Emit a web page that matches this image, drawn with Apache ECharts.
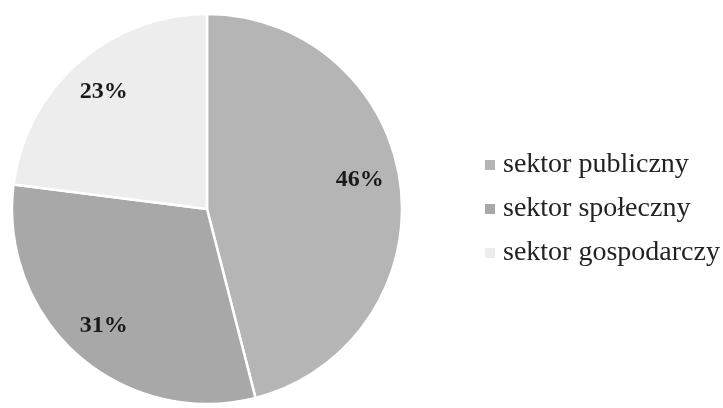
<!DOCTYPE html>
<html>
<head>
<meta charset="utf-8">
<script src="https://cdn.jsdelivr.net/npm/echarts@6/dist/echarts.min.js"></script>
<style>
html,body{margin:0;padding:0;background:#fff;}
#chart{width:723px;height:408px;}
</style>
</head>
<body>
<div id="chart"></div>
<script>
const categories = ['sektor publiczny', 'sektor społeczny', 'sektor gospodarczy'];
const values = [46, 31, 23];
const sliceColors = ['#b5b5b5', '#a8a8a8', '#ededed'];

const chart = echarts.init(document.getElementById('chart'), null, {renderer: 'canvas'});
const pieData = categories.map((c, i) => ({name: c, value: values[i], itemStyle: {color: sliceColors[i]}}));
const labelData = categories.map((c, i) => ({
  name: c,
  value: values[i],
  label: i === 0 ? {offset: [-2, -10]} : {}
}));

chart.setOption({
  backgroundColor: '#ffffff',
  animation: false,
  legend: {
    orient: 'vertical',
    left: 478,
    top: 145,
    itemWidth: 12,
    itemHeight: 12,
    itemGap: 14,
    icon: 'rect',
    data: categories,
    textStyle: {
      fontFamily: 'Liberation Serif',
      fontSize: 28,
      color: '#222',
      lineHeight: 30,
      padding: [0, 0, 0, 2]
    }
  },
  series: [
    {
      type: 'pie',
      center: [207, 209],
      radius: [0, 195],
      startAngle: 90,
      clockwise: true,
      data: pieData,
      label: {show: false},
      labelLine: {show: false},
      itemStyle: {borderColor: '#ffffff', borderWidth: 2.5},
      emphasis: {disabled: true}
    },
    {
      type: 'pie',
      center: [207, 209],
      radius: [111, 195],
      startAngle: 90,
      clockwise: true,
      silent: true,
      legendHoverLink: false,
      data: labelData,
      itemStyle: {color: 'rgba(0,0,0,0)', borderWidth: 0},
      label: {
        show: true,
        position: 'inside',
        formatter: '{c}%',
        fontFamily: 'Liberation Serif',
        fontWeight: 'bold',
        fontSize: 24,
        color: '#1a1a1a'
      },
      labelLine: {show: false},
      emphasis: {disabled: true}
    }
  ]
});
</script>
</body>
</html>
